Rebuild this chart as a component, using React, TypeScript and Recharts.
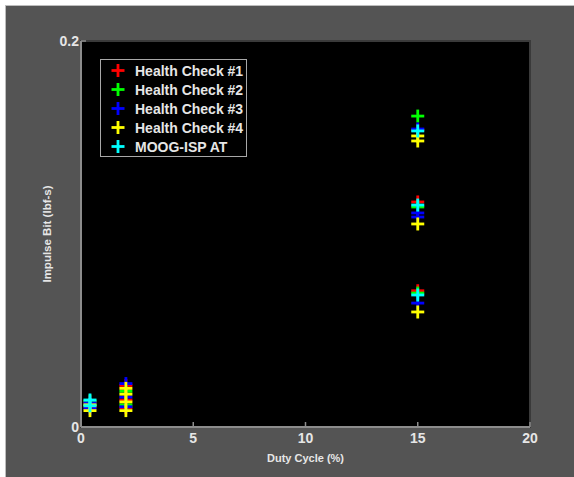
import React from 'react';
import {
  ScatterChart,
  Scatter,
  XAxis,
  YAxis,
  ReferenceArea,
  Legend,
} from 'recharts';

// duty cycle (%) / impulse bit (lbf-s) per test
const hc1 = [
  { x: 0.4, y: 0.0105 },
  { x: 0.4, y: 0.013 },
  { x: 2, y: 0.0215 },
  { x: 2, y: 0.014 },
  { x: 2, y: 0.01 },
  { x: 15, y: 0.1539 },
  { x: 15, y: 0.1166 },
  { x: 15, y: 0.0706 },
];
const hc2 = [
  { x: 0.4, y: 0.0115 },
  { x: 0.4, y: 0.0135 },
  { x: 2, y: 0.0185 },
  { x: 2, y: 0.0115 },
  { x: 15, y: 0.1611 },
  { x: 15, y: 0.114 },
  { x: 15, y: 0.0694 },
];
const hc3 = [
  { x: 0.4, y: 0.0125 },
  { x: 0.4, y: 0.0095 },
  { x: 2, y: 0.0225 },
  { x: 2, y: 0.0155 },
  { x: 2, y: 0.0105 },
  { x: 15, y: 0.1544 },
  { x: 15, y: 0.1109 },
  { x: 15, y: 0.1088 },
  { x: 15, y: 0.0642 },
];
const hc4 = [
  { x: 0.4, y: 0.0115 },
  { x: 0.4, y: 0.0085 },
  { x: 2, y: 0.02 },
  { x: 2, y: 0.017 },
  { x: 2, y: 0.013 },
  { x: 2, y: 0.0085 },
  { x: 15, y: 0.1508 },
  { x: 15, y: 0.1482 },
  { x: 15, y: 0.1052 },
  { x: 15, y: 0.0596 },
];
const moog = [
  { x: 0.4, y: 0.014 },
  { x: 0.4, y: 0.011 },
  { x: 15, y: 0.1534 },
  { x: 15, y: 0.115 },
  { x: 15, y: 0.0684 },
];

const xTicks = [0, 5, 10, 15, 20];
const yTicks = [0, 0.2];

const SERIES = [
  { name: 'Health Check #1', data: hc1, color: '#ff0000' },
  { name: 'Health Check #2', data: hc2, color: '#00ff00' },
  { name: 'Health Check #3', data: hc3, color: '#0000ff' },
  { name: 'Health Check #4', data: hc4, color: '#ffff00' },
  { name: 'MOOG-ISP AT', data: moog, color: '#00ffff' },
];

const FONT = '"Liberation Sans", Arial, sans-serif';
const TEXT = '#e6e6e6';
const AXIS = '#8c8c8c';

const Plus = ({ cx, cy, color }: any) => (
  <g stroke={color} strokeWidth={2.8}>
    <line x1={cx - 6.5} y1={cy} x2={cx + 6.5} y2={cy} />
    <line x1={cx} y1={cy - 6.5} x2={cx} y2={cy + 6.5} />
  </g>
);

const XTick = ({ x, y, payload }: any) => (
  <g>
    <line x1={x} y1={y} x2={x} y2={y - 5} stroke={AXIS} strokeWidth={1.5} />
    <text
      x={x}
      y={y + 16}
      textAnchor="middle"
      fill={TEXT}
      fontFamily={FONT}
      fontWeight="bold"
      fontSize={14}
    >
      {payload.value}
    </text>
  </g>
);

const YTick = ({ x, y, payload }: any) => (
  <g>
    <line x1={x} y1={y} x2={x + 5} y2={y} stroke={AXIS} strokeWidth={1.5} />
    <text
      x={x - 2}
      y={y + 5}
      textAnchor="end"
      fill={TEXT}
      fontFamily={FONT}
      fontWeight="bold"
      fontSize={14}
    >
      {payload.value}
    </text>
  </g>
);

const LegendBox = () => (
  <div
    style={{
      width: 145,
      height: 95,
      border: '1px solid #a8a8a8',
      background: '#000',
      paddingTop: 1,
      boxSizing: 'content-box',
    }}
  >
    {SERIES.map((s) => (
      <div
        key={s.name}
        style={{ height: 19, display: 'flex', alignItems: 'center' }}
      >
        <svg width={34} height={19}>
          <Plus cx={17} cy={9.5} color={s.color} />
        </svg>
        <span
          style={{
            color: TEXT,
            fontFamily: FONT,
            fontWeight: 'bold',
            fontSize: 14,
            whiteSpace: 'nowrap',
          }}
        >
          {s.name}
        </span>
      </div>
    ))}
  </div>
);

export default function App() {
  return (
    <div
      style={{
        position: 'fixed',
        left: 0,
        top: 0,
        width: 574,
        height: 477,
        background: '#fff',
      }}
    >
      <div
        style={{
          position: 'absolute',
          left: 5,
          top: 5,
          width: 569,
          height: 472,
          background: '#545454',
          borderTop: '1px solid #bdbdbd',
          borderLeft: '1px solid #bdbdbd',
          boxSizing: 'border-box',
        }}
      />
      <div style={{ position: 'absolute', left: 0, top: 0 }}>
        <ScatterChart
          width={574}
          height={477}
          margin={{ top: 41, right: 44, bottom: 5, left: 40 }}
        >
          <XAxis
            type="number"
            dataKey="x"
            domain={[0, 20]}
            ticks={xTicks}
            height={45}
            axisLine={{ stroke: AXIS, strokeWidth: 2 }}
            tickLine={false}
            tickSize={0}
            tickMargin={0}
            tick={<XTick />}
            label={{
              content: ({ viewBox }: any) => (
                <text
                  x={viewBox.x + viewBox.width / 2}
                  y={viewBox.y + 35}
                  textAnchor="middle"
                  fill={TEXT}
                  fontFamily={FONT}
                  fontWeight="bold"
                  fontSize={11}
                >
                  Duty Cycle (%)
                </text>
              ),
            }}
          />
          <YAxis
            type="number"
            dataKey="y"
            domain={[0, 0.2]}
            ticks={yTicks}
            width={41}
            axisLine={{ stroke: AXIS, strokeWidth: 2 }}
            tickLine={false}
            tickSize={0}
            tickMargin={0}
            tick={<YTick />}
            label={{
              content: ({ viewBox }: any) => {
                const cx = viewBox.x + 7;
                const cy = viewBox.y + viewBox.height / 2;
                return (
                  <text
                    x={cx}
                    y={cy}
                    transform={`rotate(-90 ${cx} ${cy})`}
                    textAnchor="middle"
                    dominantBaseline="central"
                    fill={TEXT}
                    fontFamily={FONT}
                    fontWeight="bold"
                    fontSize={11.5}
                  >
                    Impulse Bit (lbf-s)
                  </text>
                );
              },
            }}
          />
          <ReferenceArea
            x1={0}
            x2={20}
            y1={0}
            y2={0.2}
            fill="#000"
            fillOpacity={1}
            stroke="#3a3a3a"
            strokeWidth={2}
          />
          {SERIES.map((s) => (
            <Scatter
              key={s.name}
              name={s.name}
              data={s.data}
              fill={s.color}
              isAnimationActive={false}
              shape={(p: any) => <Plus cx={p.cx} cy={p.cy} color={s.color} />}
            />
          ))}
          <Legend
            layout="vertical"
            align="center"
            verticalAlign="middle"
            content={<LegendBox />}
            wrapperStyle={{ left: 100, top: 59, width: 'auto', height: 'auto' }}
          />
        </ScatterChart>
      </div>
    </div>
  );
}
